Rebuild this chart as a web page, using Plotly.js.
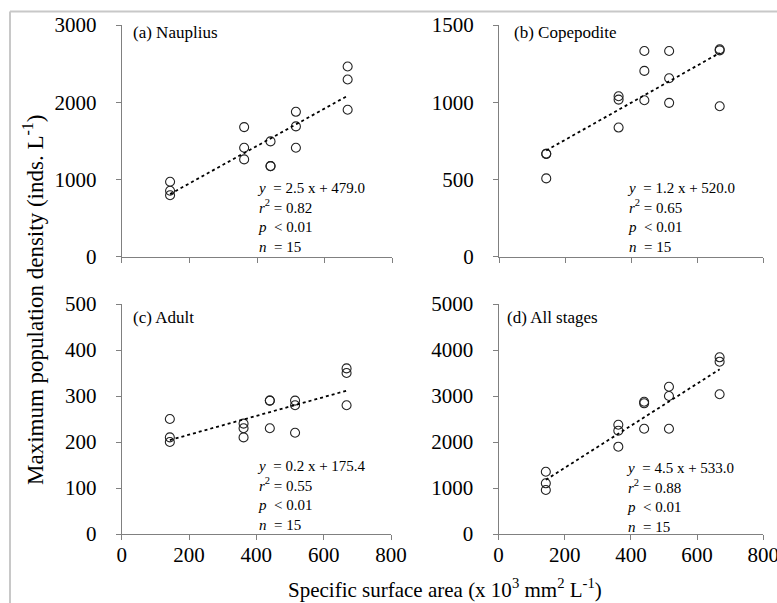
<!DOCTYPE html>
<html>
<head>
<meta charset="utf-8">
<script src="https://cdn.plot.ly/plotly-3.0.1.min.js"></script>
<style>html,body{margin:0;padding:0;background:#fff;}#chart{width:777px;height:603px;}</style>
</head>
<body>
<div id="chart"></div>
<script>
// ---- data ----
const surfaceArea = [143,143,143, 362,362,362, 440,440,440, 515,515,515, 668,668,668];
const nauplius   = [970,854,795, 1678,1410,1260, 1493,1173,1173, 1876,1687,1410, 2463,2295,1902];
const copepodite = [666,666,507, 1039,1017,836, 1332,1203,1013, 1332,1155,996, 1343,1336,974];
const adult      = [250,210,200, 240,230,210, 290,290,230, 290,280,220, 360,350,280];
const allStages  = [1354,1102,957, 2376,2246,1898, 2876,2841,2289, 3202,3000,2289, 3841,3746,3037];

const panelLabels = ["(a) Nauplius", "(b) Copepodite", "(c) Adult", "(d) All stages"];
const equations = ["2.5 x + 479.0", "1.2 x + 520.0", "0.2 x + 175.4", "4.5 x + 533.0"];
const rSquared = ["0.82", "0.65", "0.55", "0.88"];
const pValue = "0.01";
const nCount = "15";
const yMax = [3000, 1500, 500, 5000];
const yStep = [1000, 500, 100, 1000];
const xTicks = [0, 200, 400, 600, 800];

const series = [nauplius, copepodite, adult, allStages];

// ---- layout helpers ----
const W = 777, H = 603;
const px = v => v / W;
const py = v => 1 - v / H;
const xDomains = [[px(121.7), px(392.3)], [px(499.0), px(763.3)], [px(121.7), px(391)], [px(498.5), px(763.3)]];
const yDomains = [[py(256.7), py(25)], [py(256.7), py(25)], [py(534), py(304)], [py(534), py(304)]];
const labelPos = [[131, 33], [512, 33], [131, 317], [505, 317]];
const statPos = [[256, 217.5], [626, 217.3], [256, 495.5], [625, 497]];

function linfit(x, y) {
  const n = x.length;
  const mx = x.reduce((a, b) => a + b, 0) / n;
  const my = y.reduce((a, b) => a + b, 0) / n;
  let sxy = 0, sxx = 0;
  for (let i = 0; i < n; i++) { sxy += (x[i] - mx) * (y[i] - my); sxx += (x[i] - mx) ** 2; }
  const b = sxy / sxx;
  return [b, my - b * mx];
}

const serif = "Liberation Serif";
const axisGray = "#808080";
const traces = [];
const layout = {
  width: W, height: H,
  margin: {l: 0, r: 0, t: 0, b: 0},
  paper_bgcolor: "#ffffff",
  plot_bgcolor: "rgba(0,0,0,0)",
  showlegend: false,
  font: {family: serif, color: "#000"},
  annotations: [],
  shapes: [
    {type: "line", xref: "paper", yref: "paper", x0: px(10), x1: 1, y0: py(11.5), y1: py(11.5), line: {color: "#c8c8c8", width: 2}},
    {type: "line", xref: "paper", yref: "paper", x0: px(10), x1: px(10), y0: py(11.5), y1: 0, line: {color: "#c8c8c8", width: 2}}
  ]
};

series.forEach((ys, i) => {
  const k = i + 1;
  const xa = k === 1 ? "x" : "x" + k;
  const ya = k === 1 ? "y" : "y" + k;
  traces.push({
    type: "scatter", mode: "markers", x: surfaceArea, y: ys, xaxis: xa, yaxis: ya,
    marker: {symbol: "circle-open", size: 9, color: "#222", line: {width: 1.1, color: "#222"}},
    cliponaxis: false, hoverinfo: "skip"
  });
  const [b, a] = linfit(surfaceArea, ys);
  const xmin = Math.min(...surfaceArea), xmax = Math.max(...surfaceArea);
  traces.push({
    type: "scatter", mode: "lines", x: [xmin, xmax], y: [a + b * xmin, a + b * xmax], xaxis: xa, yaxis: ya,
    line: {color: "#000", width: 1.8, dash: "dot"}, hoverinfo: "skip"
  });
  const yticks = [];
  for (let v = 0; v <= yMax[i]; v += yStep[i]) yticks.push(v);
  const bottom = i >= 2;
  layout["xaxis" + (k === 1 ? "" : k)] = {
    domain: xDomains[i], range: [0, 800], anchor: ya,
    tickmode: "array", tickvals: xTicks, ticktext: xTicks.map(String),
    showticklabels: bottom, ticklabeloverflow: "allow",
    ticks: "outside", ticklen: 5, tickwidth: 1, tickcolor: axisGray,
    showline: true, linecolor: axisGray, linewidth: 1,
    showgrid: false, zeroline: false, ticklabelstandoff: -3,
    tickfont: {family: serif, size: 21, color: "#000"}
  };
  layout["yaxis" + (k === 1 ? "" : k)] = {
    domain: yDomains[i], range: [0, yMax[i]], anchor: xa,
    tickmode: "array", tickvals: yticks, ticktext: yticks.map(String),
    ticks: "outside", ticklen: 5, tickwidth: 1, tickcolor: axisGray,
    showline: true, linecolor: axisGray, linewidth: 1,
    showgrid: false, zeroline: false, ticklabelstandoff: 15,
    tickfont: {family: serif, size: 21, color: "#000"}
  };
  layout.annotations.push({
    xref: "paper", yref: "paper", x: px(labelPos[i][0]), y: py(labelPos[i][1]),
    xanchor: "left", yanchor: "middle", showarrow: false, text: panelLabels[i],
    font: {family: serif, size: 17, color: "#000"}
  });
  const statText = [
    "<i>y</i>&nbsp; = " + equations[i],
    "<i>r</i><sup>2</sup> = " + rSquared[i],
    "<i>p</i>&nbsp; < " + pValue,
    "<i>n</i>&nbsp; = " + nCount
  ].join("<br>");
  layout.annotations.push({
    xref: "paper", yref: "paper", x: px(statPos[i][0]), y: py(statPos[i][1]),
    xanchor: "left", yanchor: "middle", align: "left", showarrow: false, borderpad: 0,
    text: statText, font: {family: serif, size: 15, color: "#000"}
  });
});

layout.annotations.push({
  xref: "paper", yref: "paper", x: px(445), y: py(588), xanchor: "center", yanchor: "middle",
  showarrow: false, text: "Specific surface area (x 10<sup>3</sup> mm<sup>2</sup> L<sup>-1</sup>)",
  font: {family: serif, size: 21, color: "#000"}
});
layout.annotations.push({
  xref: "paper", yref: "paper", x: px(33), y: py(300), xanchor: "center", yanchor: "middle",
  textangle: -90, showarrow: false, text: "Maximum population density (inds. L<sup>-1</sup>)",
  font: {family: serif, size: 23, color: "#000"}
});

Plotly.newPlot("chart", traces, layout, {displayModeBar: false, staticPlot: true});
</script>
</body>
</html>
